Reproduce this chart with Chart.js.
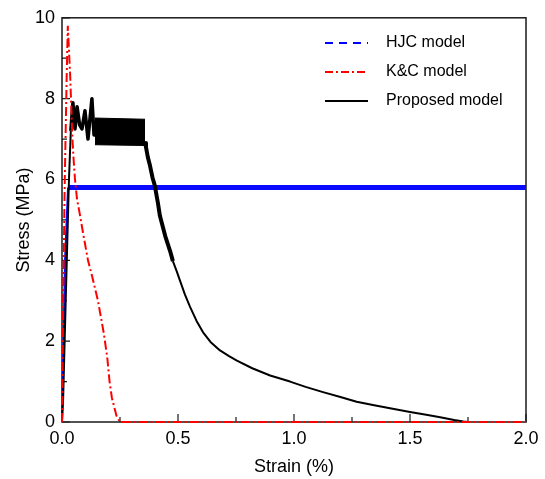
<!DOCTYPE html>
<html>
<head>
<meta charset="utf-8">
<script src="https://cdn.jsdelivr.net/npm/chart.js@4/dist/chart.umd.min.js"></script>
<style>
html,body{margin:0;padding:0;background:#fff;}
canvas{display:block;}
</style>
</head>
<body>
<canvas id="c" width="545" height="479"></canvas>
<script>
// ---- data ----
const hjcStrain = [0, 0.006, 0.013, 0.026, 2.0];
const hjcStress = [0, 1.8, 4.0, 5.8, 5.8];

const kcStrain = [0, 0.005, 0.012, 0.02, 0.025, 0.03, 0.035, 0.04, 0.045, 0.05, 0.056, 0.065, 0.075, 0.09, 0.112, 0.13, 0.155, 0.18, 0.195, 0.205, 0.215, 0.235, 0.25, 2.0];
const kcStress = [0, 3.0, 6.0, 8.5, 9.8, 9.2, 8.6, 7.8, 7.0, 6.5, 6.0, 5.5, 5.2, 4.7, 4.0, 3.6, 3.0, 2.2, 1.6, 1.0, 0.6, 0.15, 0, 0];

const propStrain = [0, 0.005, 0.015, 0.03, 0.038, 0.047, 0.056, 0.065, 0.076, 0.086, 0.099, 0.112, 0.129, 0.138, 0.142, 0.358, 0.362, 0.37, 0.379, 0.39, 0.40, 0.414, 0.422, 0.445, 0.466, 0.478, 0.495, 0.509, 0.53, 0.552, 0.58, 0.608, 0.64, 0.681, 0.72, 0.754, 0.82, 0.897, 0.983, 1.05, 1.125, 1.2, 1.27, 1.34, 1.414, 1.5, 1.57, 1.63, 1.69, 1.73, 1.75];
const propStress = [0, 0.6, 2.8, 6.0, 7.2, 7.9, 7.25, 7.8, 7.35, 7.25, 7.7, 7.0, 8.0, 7.1, 7.2, 6.9, 6.8, 6.55, 6.35, 6.05, 5.85, 5.4, 5.1, 4.6, 4.23, 3.98, 3.72, 3.49, 3.15, 2.85, 2.5, 2.22, 1.98, 1.77, 1.63, 1.52, 1.33, 1.15, 1.0, 0.87, 0.74, 0.62, 0.5, 0.42, 0.34, 0.25, 0.18, 0.12, 0.05, 0.01, 0];

// oscillation band of the proposed model (upper / lower envelope)
const bandStrain = [0.142, 0.358];
const bandUpper = [7.52, 7.49];
const bandLower = [6.86, 6.84];

const xTicks = [0, 0.5, 1.0, 1.5, 2.0];
const yTicks = [0, 2, 4, 6, 8, 10];
const legendLabels = ['HJC model', 'K&C model', 'Proposed model'];

const FONT = "'Liberation Sans', Arial, sans-serif";
const pts = (xs, ys) => xs.map((x, i) => ({x: x, y: ys[i]}));

const framePlugin = {
  id: 'frame',
  beforeDatasetsDraw(chart) {
    const {ctx, chartArea: a, scales: {x, y}} = chart;
    ctx.save();
    ctx.strokeStyle = '#1a1a1a';
    ctx.lineWidth = 1.5;
    ctx.strokeRect(a.left, a.top, a.right - a.left, a.bottom - a.top);
    ctx.lineWidth = 1.2;
    ctx.beginPath();
    for (let i = 0; i < xTicks.length; i++) {
      const px = x.getPixelForValue(xTicks[i]);
      ctx.moveTo(px, a.bottom); ctx.lineTo(px, a.bottom - 8);
      if (i < xTicks.length - 1) {
        const mx = x.getPixelForValue((xTicks[i] + xTicks[i + 1]) / 2);
        ctx.moveTo(mx, a.bottom); ctx.lineTo(mx, a.bottom - 5);
      }
    }
    for (let i = 0; i < yTicks.length; i++) {
      const py = y.getPixelForValue(yTicks[i]);
      ctx.moveTo(a.left, py); ctx.lineTo(a.left + 8, py);
      if (i < yTicks.length - 1) {
        const my = y.getPixelForValue((yTicks[i] + yTicks[i + 1]) / 2);
        ctx.moveTo(a.left, my); ctx.lineTo(a.left + 5, my);
      }
    }
    ctx.stroke();
    ctx.restore();
  },
  afterDraw(chart) {
    const ctx = chart.ctx;
    const styles = [
      {color: '#0000ff', dash: [8, 6]},
      {color: '#ff0000', dash: [8, 3, 2, 3]},
      {color: '#000000', dash: []}
    ];
    ctx.save();
    ctx.font = '16px ' + FONT;
    ctx.textBaseline = 'middle';
    ctx.textAlign = 'left';
    const ys = [43, 72, 101];
    for (let i = 0; i < legendLabels.length; i++) {
      ctx.strokeStyle = styles[i].color;
      ctx.setLineDash(styles[i].dash);
      ctx.lineWidth = 2;
      ctx.beginPath();
      ctx.moveTo(325, ys[i]); ctx.lineTo(368, ys[i]);
      ctx.stroke();
      ctx.fillStyle = '#000';
      ctx.fillText(legendLabels[i], 386, ys[i]);
    }
    ctx.restore();
  }
};

new Chart(document.getElementById('c'), {
  type: 'line',
  data: {
    datasets: [
      {
        label: legendLabels[1],
        data: pts(kcStrain, kcStress),
        borderColor: '#ff0000',
        borderWidth: 2,
        borderDash: [9, 3, 2, 3],
        pointRadius: 0,
        fill: false,
        tension: 0,
        clip: 4,
        order: 0
      },
      {
        label: legendLabels[2],
        data: pts(propStrain, propStress),
        borderColor: '#000000',
        borderWidth: 2,
        pointRadius: 0,
        fill: false,
        tension: 0,
        borderJoinStyle: 'round',
        clip: 4,
        order: 1,
        segment: {
          borderWidth: c => {
            const a = c.p0.parsed.x, b = c.p1.parsed.x;
            if (a >= 0.035 && b <= 0.143) return 3.5;
            if (a >= 0.355 && b <= 0.48) return 4;
            return 2;
          }
        }
      },
      {
        label: 'band-upper',
        data: pts(bandStrain, bandUpper),
        borderColor: '#000000',
        borderWidth: 1,
        backgroundColor: '#000000',
        pointRadius: 0,
        fill: '+1',
        order: 1
      },
      {
        label: 'band-lower',
        data: pts(bandStrain, bandLower),
        borderColor: '#000000',
        borderWidth: 1,
        pointRadius: 0,
        fill: false,
        order: 1
      },
      {
        label: legendLabels[0],
        data: pts(hjcStrain, hjcStress),
        borderColor: '#0a0aff',
        borderWidth: 2,
        pointRadius: 0,
        fill: false,
        tension: 0,
        clip: 4,
        order: 2,
        segment: {
          borderWidth: c => c.p0.parsed.x >= 0.02 ? 5 : 2
        }
      }
    ]
  },
  options: {
    responsive: false,
    animation: false,
    layout: {padding: {left: 0, right: 19, top: 15, bottom: 0}},
    plugins: {legend: {display: false}, tooltip: {enabled: false}},
    scales: {
      x: {
        type: 'linear',
        min: 0, max: 2,
        afterBuildTicks: s => { s.ticks = xTicks.map(v => ({value: v})); },
        afterFit: s => { s.height = 57; },
        grid: {display: false, drawTicks: false},
        border: {display: false},
        ticks: {
          padding: 6,
          color: '#000',
          font: {family: FONT, size: 18},
          callback: v => Number(v).toFixed(1)
        },
        title: {
          display: true, text: 'Strain (%)', color: '#000',
          font: {family: FONT, size: 18},
          padding: {top: 0, bottom: 1}
        }
      },
      y: {
        type: 'linear',
        min: 0, max: 10,
        afterBuildTicks: s => { s.ticks = yTicks.map(v => ({value: v})); },
        afterFit: s => { s.width = 62; },
        grid: {display: false, drawTicks: false},
        border: {display: false},
        ticks: {
          padding: 7,
          color: '#000',
          font: {family: FONT, size: 18},
          callback: v => String(v)
        },
        title: {
          display: true, text: 'Stress (MPa)', color: '#000',
          font: {family: FONT, size: 18},
          padding: {top: 13, bottom: 0}
        }
      }
    }
  },
  plugins: [framePlugin]
});
</script>
</body>
</html>
